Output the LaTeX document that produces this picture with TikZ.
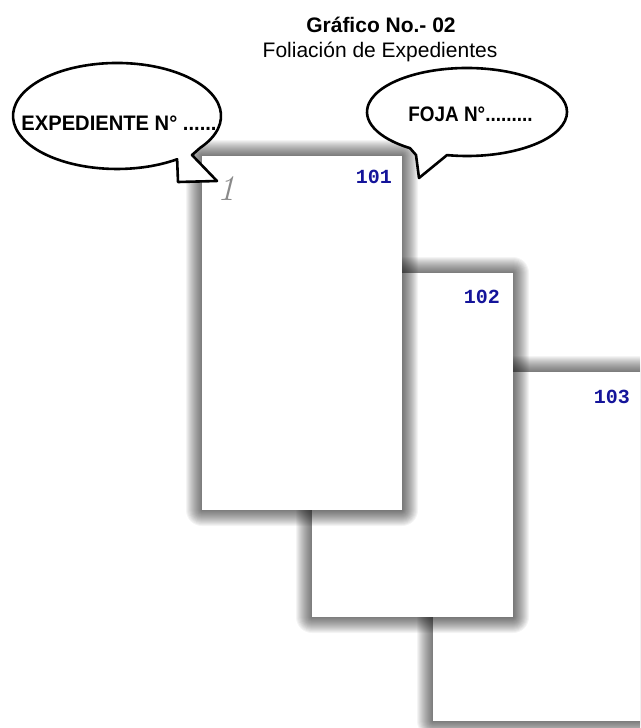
\documentclass[tikz,border=0pt]{standalone}
\usepackage{fontspec}
\usetikzlibrary{calc}
\newfontfamily\arialfont{Liberation Sans}
\newfontfamily\numfont{Liberation Mono}
\definecolor{folionum}{HTML}{14149A}
\definecolor{handgray}{HTML}{8A8A8A}

% one sheet with a soft gray shadow all around it
\newcommand\drawsheet[5]{%
  \foreach \i in {1,...,16}{%
    \fill[black,opacity=0.042,rounded corners=\i pt] (#2-\i,#3-\i) rectangle (#4+\i,#5+\i);
  }%
  \fill[white] (#2,#3) rectangle (#4,#5);
  \coordinate (#1) at (#4,#3);
}

\tikzset{
  bubble/.style={draw=black,line width=2.6pt,fill=white,line join=round},
  bubbletext/.style={font=\arialfont\bfseries\fontsize{21}{21}\selectfont,inner sep=0pt,anchor=base},
  foliotext/.style={font=\numfont\bfseries\fontsize{20}{20}\selectfont,text=folionum,inner sep=0pt,anchor=east},
}

\begin{document}
\begin{tikzpicture}[x=1pt,y=-1pt]
\useasboundingbox (0,0) rectangle (640,728);
\begin{scope}
\clip (0,0) rectangle (640,728);

% title
\node[font=\arialfont\bfseries\fontsize{21}{21}\selectfont,inner sep=0pt,anchor=base] (title) at (381,32) {Gráfico No.- 02};
\node[font=\arialfont\fontsize{21}{21}\selectfont,inner sep=0pt,anchor=base] (subtitle) at (380,57) {Foliación de Expedientes};

% the three sheets, back to front
\drawsheet{s3}{433}{372}{650}{721}
\drawsheet{s2}{312}{273}{513}{617}
\drawsheet{s1}{202}{156}{402}{510}

% folio numbers
\node[foliotext] (f1) at ($(s1)+(-10,21)$) {101};
\node[foliotext] (f2) at ($(s2)+(-13,24)$) {102};
\node[foliotext] (f3) at ($(s3)+(-20,25)$) {103};

% handwritten file number
\node[font=\itshape\fontsize{36}{36}\selectfont,text=handgray,inner sep=0pt] (hand) at (226,189) {1};

% left callout
\draw[bubble] (200.2,147.8) arc[start angle=36.9,end angle=-305.3,x radius=104,y radius=53]
  -- (178,182) -- (217,181) -- (192,155) -- cycle;
\node[bubbletext] (exp) at (119,130) {\scalebox{0.96}[1]{EXPEDIENTE N° ......}};

% right callout
\draw[bubble] (447.0,155.1) arc[start angle=101.54,end angle=-235.25,x radius=100,y radius=44]
  -- (416,155) -- (419,178) -- cycle;
\node[bubbletext] (foja) at (470.5,121) {\scalebox{0.9}[1]{FOJA N°.........}};
\end{scope}
\end{tikzpicture}
\end{document}
